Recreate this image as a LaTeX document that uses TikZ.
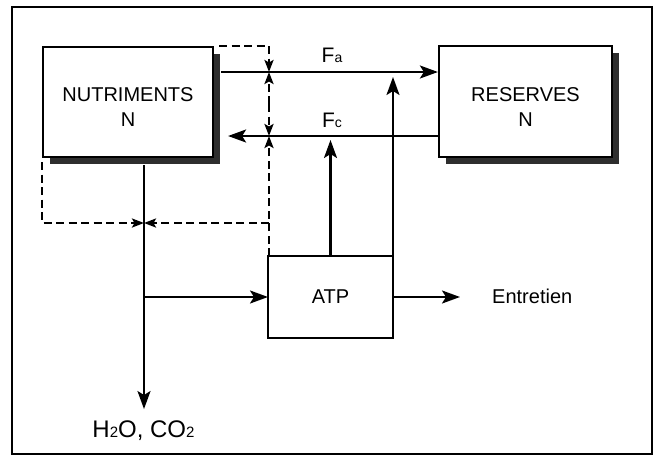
\documentclass[tikz,border=0pt]{standalone}
\usepackage{fontspec}
\setmainfont{Liberation Sans}
\usetikzlibrary{arrows.meta,calc,shadows}
\newcommand\sbs[1]{{\fontsize{14}{14}\selectfont #1}}
\begin{document}
\begin{tikzpicture}[x=1pt,y=-1pt,
  box/.style={draw, line width=2.2pt, fill=white, align=center, inner sep=0pt,
    font=\fontsize{20}{25}\selectfont,
    drop shadow={shadow xshift=7pt,shadow yshift=-7pt,fill=black!82,opacity=1}},
  plainbox/.style={draw, line width=2.2pt, fill=white, inner sep=0pt, outer sep=0pt,
    font=\fontsize{20}{25}\selectfont},
  arr/.style={line width=2.2pt, -{Stealth[length=18pt,width=13pt,inset=4pt]}},
  dsh/.style={line width=2.2pt, dash pattern=on 8pt off 4.5pt},
  darr/.style={dsh, -{Stealth[length=12pt,width=9pt,inset=2.5pt]}},
  lbl/.style={inner sep=0pt, anchor=base, font=\fontsize{21}{21}\selectfont},
  txt/.style={inner sep=0pt, font=\fontsize{20}{20}\selectfont}]
\useasboundingbox (0,0) rectangle (657,456);
\draw[line width=2.5pt] (12,7) rectangle (652,454);

\node[box, minimum width=170pt, minimum height=110pt] (nutr) at (128,102) {\rule{0pt}{24pt}NUTRIMENTS\\N};
\node[box, minimum width=173pt, minimum height=111pt] (res) at (525.5,101.5) {\rule{0pt}{24pt}RESERVES\\N};
\node[plainbox, minimum width=125pt, minimum height=82pt] (atp) at (330.5,297) {ATP};

\node[lbl] (fa) at (332,62) {F\sbs{a}};
\node[lbl] (fc) at (332,127) {F\sbs{c}};
\node[txt, anchor=base west] (entr) at (492,303) {Entretien};
\node[inner sep=0pt, anchor=base, font=\fontsize{24}{24}\selectfont] (h2o) at (143.5,437) {H{\fontsize{15}{15}\selectfont 2}O, CO{\fontsize{15}{15}\selectfont 2}};

\coordinate (fay) at (0,72);
\coordinate (fcy) at (0,136);
\coordinate (dx) at (269,0);
\coordinate (vx) at (144,0);
\coordinate (dy) at (0,223);
\coordinate (mid) at (269,104);
\coordinate (etip) at (460,0);

% solid flows
\draw[arr] ($(nutr.east |- fay)+(7,0)$) -- (res.west |- fay);
\draw[arr] (res.west |- fcy) -- ($(nutr.east |- fcy)+(14,0)$);
\draw[arr] (atp.north) -- ($(atp.north |- fcy)+(0,4)$);
\draw[arr] (atp.north east) -- ($(atp.north east |- fay)+(0,5)$);
\draw[arr] ($(nutr.south -| vx)+(0,7)$) -- ($(h2o.north -| vx)+(0,-11)$);
\draw[arr] (vx |- atp.west) -- (atp.west);
\draw[arr] (atp.east) -- (atp.east -| etip);

% dashed regulation
\draw[darr] ($(nutr.north east)+(5,0)$) -- (dx |- nutr.north east) -- (dx |- fay);
\draw[darr] (mid) -- (dx |- fay);
\draw[darr] (mid) -- (dx |- fcy);
\draw[darr] (dx |- atp.north) -- (dx |- fcy);
\draw[darr] (dx |- dy) -- (vx |- dy);
\draw[darr] ($(nutr.south west)+(0,4)$) -- (nutr.south west |- dy) -- (vx |- dy);
\end{tikzpicture}
\end{document}
